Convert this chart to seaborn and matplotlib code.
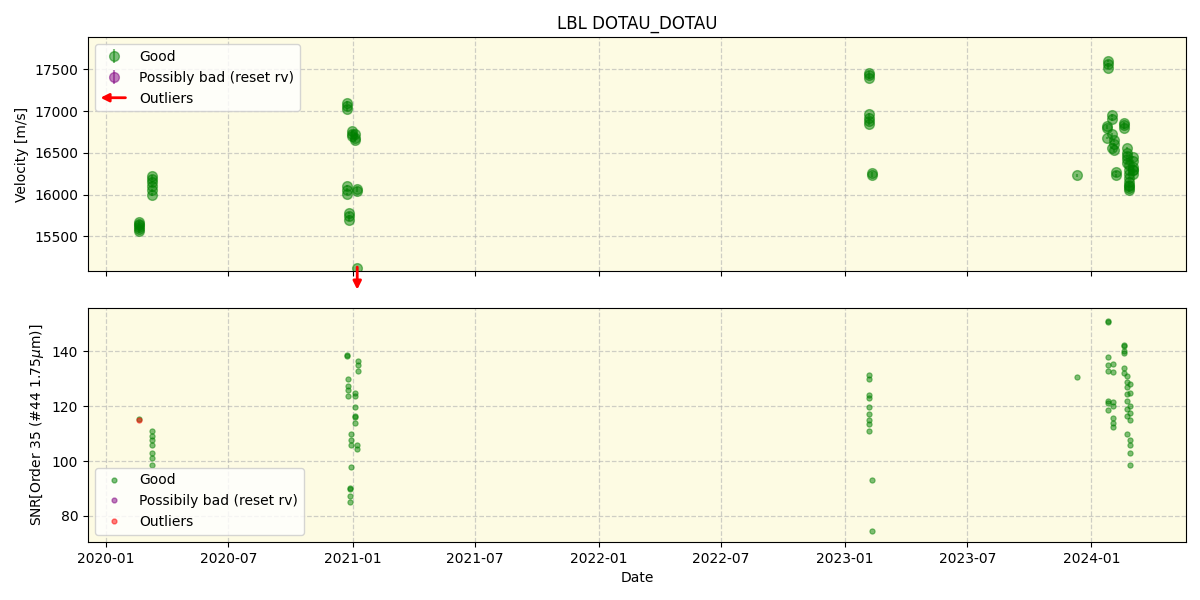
import numpy as np
import pandas as pd
import matplotlib
matplotlib.use("Agg")
import matplotlib.pyplot as plt
import matplotlib.dates as mdates
import matplotlib.patches as mpatches
from matplotlib.lines import Line2D
from matplotlib.legend_handler import HandlerPatch
import seaborn as sns

# ---------------- data ----------------
rv_dates = (["2020-02-19"] * 6 + ["2020-03-10"] * 6 +
            ["2020-12-24"] * 3 + ["2020-12-31"] * 3 + ["2021-01-05"] * 3 +
            ["2020-12-24"] * 3 + ["2021-01-08"] * 2 + ["2020-12-27"] * 3 +
            ["2023-02-05"] * 3 + ["2023-02-06"] * 4 + ["2023-02-10"] * 2 +
            ["2023-12-11"] +
            ["2024-01-26"] * 3 + ["2024-01-24"] * 3 + ["2024-02-01"] * 4 +
            ["2024-02-03"] * 3 + ["2024-02-18"] * 3 + ["2024-02-07"] * 2 +
            ["2024-02-22"] * 5 + ["2024-02-26"] * 6 + ["2024-03-02"] * 6 +
            ["2024-02-25"] * 3)
rv_values = ([15560, 15590, 15610, 15630, 15650, 15670] +
             [16000, 16050, 16100, 16150, 16190, 16220] +
             [17020, 17060, 17100] + [16760, 16730, 16700] + [16720, 16680, 16650] +
             [16005, 16060, 16100] + [16040, 16070] + [15700, 15740, 15780] +
             [17400, 17430, 17460] + [16960, 16920, 16880, 16850] + [16230, 16260] +
             [16230] +
             [17520, 17560, 17600] + [16800, 16820, 16680] + [16900, 16950, 16720, 16560] +
             [16650, 16600, 16530] + [16860, 16830, 16800] + [16230, 16270] +
             [16560, 16500, 16460, 16420, 16380] + [16350, 16300, 16250, 16200, 16150, 16100] +
             [16450, 16400, 16330, 16290, 16250, 16300] +
             [16080, 16050, 16120])
rv_errors = [15] * len(rv_values)

rv_bad_dates = []
rv_bad_values = []
rv_bad_errors = []

outlier_dates = ["2021-01-08"]
outlier_values = [15115]

snr_dates = (["2020-02-19"] +
             ["2020-03-10"] * 7 +
             ["2020-12-24"] * 2 + ["2021-01-09"] * 3 + ["2020-12-25"] * 4 +
             ["2021-01-05"] * 6 + ["2020-12-30"] * 4 + ["2021-01-08"] * 2 +
             ["2020-12-29"] * 4 +
             ["2023-02-05"] * 9 + ["2023-02-10"] * 2 +
             ["2023-12-11"] +
             ["2024-01-26"] * 8 + ["2024-02-02"] * 7 + ["2024-02-18"] * 6 +
             ["2024-02-23"] * 8 + ["2024-02-27"] * 9)
snr_values = ([115.5] +
              [111, 109, 107.5, 106, 103, 101, 98.5] +
              [138.2, 138.8] + [136.7, 135, 133] + [129.8, 127.3, 125.8, 123.6] +
              [124.7, 123.6, 119.6, 116, 113.8, 116.5] + [109.8, 107.6, 105.8, 97.8] + [105.8, 104.5] +
              [90, 89.8, 87.3, 85] +
              [131.3, 129.8, 124, 122.9, 119.6, 117, 115, 113.5, 111] + [93.2, 74.5] +
              [130.5] +
              [151.3, 150.8, 137.8, 135, 132.7, 122, 121, 118.5] +
              [135.3, 132.4, 121.5, 120, 115.6, 114, 112.4] +
              [142.5, 142, 140, 139.5, 133.8, 132] +
              [131, 129, 127, 124.5, 122, 119, 116.5, 110] +
              [128, 125, 120, 117.5, 115, 107.6, 106, 103, 98.5])

snr_bad_dates = []
snr_bad_values = []
snr_out_dates = ["2020-02-19"]
snr_out_values = [115]

# ---------------- figure ----------------
fig, (ax1, ax2) = plt.subplots(2, 1, figsize=(12, 6), dpi=100, sharex=True)
fig.subplots_adjust(left=0.0733, right=0.9883, top=0.938, bottom=0.097, hspace=0.155)

bg = "#fdfbe3"
for ax in (ax1, ax2):
    ax.set_facecolor(bg)
    ax.grid(True, linestyle="--", color="#b0b0b0", alpha=0.6, linewidth=0.9)
    ax.set_axisbelow(True)

rv_df = pd.DataFrame({"date": pd.to_datetime(rv_dates), "rv": rv_values, "err": rv_errors})
ax1.errorbar(rv_df["date"], rv_df["rv"], yerr=rv_df["err"], fmt="o", color="green",
             alpha=0.5, ms=7, label="Good")
ax1.errorbar(pd.to_datetime(rv_bad_dates), np.array(rv_bad_values, dtype=float),
             yerr=np.array(rv_bad_errors, dtype=float), fmt="o", color="purple",
             alpha=0.5, ms=7, label="Possibly bad (reset rv)")

ax1.set_ylim(15080, 17885)
ax1.set_yticks([15500, 16000, 16500, 17000, 17500])
ax1.set_ylabel("Velocity [m/s]")
ax1.set_title("LBL DOTAU_DOTAU", fontsize=12)

# outlier arrows (below the axis)
for d, v in zip(outlier_dates, outlier_values):
    ax1.errorbar([pd.Timestamp(d)], [v], yerr=[15], fmt="o", color="green", alpha=0.5, ms=7)
    ax1.annotate("", xy=(pd.Timestamp(d), -0.09), xytext=(pd.Timestamp(d), 0.03),
                 xycoords=("data", "axes fraction"), textcoords=("data", "axes fraction"),
                 arrowprops=dict(arrowstyle="-|>", color="red", lw=2, mutation_scale=12),
                 annotation_clip=False)


class HandlerArrow(HandlerPatch):
    def create_artists(self, legend, orig_handle, xdescent, ydescent, width, height,
                       fontsize, trans):
        p = mpatches.FancyArrowPatch((-xdescent + width, -ydescent + height / 2),
                                     (-xdescent - 2, -ydescent + height / 2),
                                     arrowstyle="-|>", mutation_scale=12, color="red", lw=2)
        p.set_transform(trans)
        return [p]


h, l = ax1.get_legend_handles_labels()
arrow_handle = mpatches.FancyArrowPatch((0, 0), (1, 0), label="Outliers")
ax1.legend(h + [arrow_handle], l + ["Outliers"], loc="upper left",
           handler_map={mpatches.FancyArrowPatch: HandlerArrow()})

# bottom panel
snr_df = pd.DataFrame({"date": pd.to_datetime(snr_dates), "snr": snr_values})
sns.scatterplot(data=snr_df, x="date", y="snr", ax=ax2, color="green", alpha=0.5,
                s=14, edgecolor="green", linewidth=0.8, legend=False)
if snr_bad_dates:
    sns.scatterplot(x=pd.to_datetime(snr_bad_dates), y=snr_bad_values, ax=ax2,
                    color="purple", alpha=0.5, s=14, legend=False)
sns.scatterplot(x=pd.to_datetime(snr_out_dates), y=snr_out_values, ax=ax2, color="red",
                alpha=0.5, s=14, edgecolor="red", linewidth=0.8, legend=False)

ax2.set_ylim(70.5, 156)
ax2.set_yticks([80, 100, 120, 140])
ax2.set_ylabel("SNR[Order 35 (#44 1.75$\\mu$m)]")
ax2.set_xlabel("Date")

handles2 = [Line2D([], [], marker="o", ls="", color="green", alpha=0.5, ms=3.5),
            Line2D([], [], marker="o", ls="", color="purple", alpha=0.5, ms=3.5),
            Line2D([], [], marker="o", ls="", color="red", alpha=0.5, ms=3.5)]
ax2.legend(handles2, ["Good", "Possibily bad (reset rv)", "Outliers"], loc="lower left")

ax2.set_xlim(pd.Timestamp("2019-12-06"), pd.Timestamp("2024-05-20"))
ax2.xaxis.set_major_locator(mdates.MonthLocator(bymonth=[1, 7]))
ax2.xaxis.set_major_formatter(mdates.DateFormatter("%Y-%m"))

fig.savefig("out.png", dpi=100)
